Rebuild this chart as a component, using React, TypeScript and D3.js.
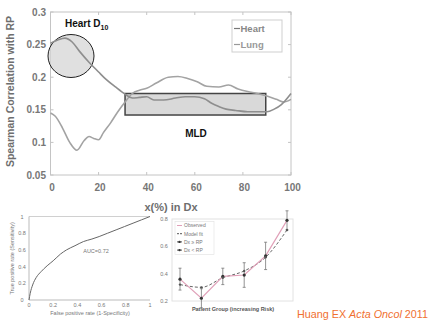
import React from 'react';
import * as d3 from 'd3';

// main panel: Spearman correlation vs x(%) of Dx
const heartX = [0, 3, 6, 9, 12, 16, 20, 23, 27, 31, 34, 37, 40, 43, 47, 52, 56, 60, 64, 67, 70, 73, 77, 82, 86, 90, 93, 96, 100];
const heartY = [0.252, 0.257, 0.26, 0.254, 0.24, 0.223, 0.208, 0.197, 0.185, 0.174, 0.168, 0.169, 0.17, 0.165, 0.165, 0.168, 0.17, 0.17, 0.167, 0.16, 0.155, 0.151, 0.149, 0.147, 0.147, 0.147, 0.151, 0.158, 0.175];
const lungX = [0, 2, 5, 8, 11, 14, 16, 18, 20, 22, 25, 28, 31, 34, 37, 40, 44, 49, 53, 57, 61, 65, 70, 74, 78, 82, 86, 90, 94, 97, 100];
const lungY = [0.145, 0.14, 0.122, 0.1, 0.088, 0.103, 0.109, 0.106, 0.104, 0.115, 0.13, 0.147, 0.162, 0.175, 0.18, 0.183, 0.191, 0.2, 0.201, 0.198, 0.193, 0.186, 0.185, 0.188, 0.182, 0.178, 0.175, 0.171, 0.166, 0.162, 0.166];
const xTicks = [0, 20, 40, 60, 80, 100];
const yTicks = [0.05, 0.1, 0.15, 0.2, 0.25, 0.3];

// bottom-left inset: ROC curve
const rocFpr = [0, 0.01, 0.03, 0.06, 0.1, 0.15, 0.2, 0.26, 0.31, 0.38, 0.45, 0.52, 0.58, 0.65, 0.72, 0.79, 0.86, 0.93, 1];
const rocTpr = [0, 0.08, 0.18, 0.27, 0.34, 0.41, 0.47, 0.55, 0.6, 0.65, 0.7, 0.73, 0.76, 0.8, 0.84, 0.88, 0.92, 0.96, 1];
const rocTicks = [0, 0.2, 0.4, 0.6, 0.8, 1];

// bottom-right inset: risk by patient group
const groups = [1, 2, 3, 4, 5, 6];
const observed = [0.36, 0.22, 0.38, 0.39, 0.53, 0.79];
const modelFit = [0.32, 0.3, 0.37, 0.42, 0.52, 0.72];
const errBar = [0.08, 0.07, 0.06, 0.09, 0.1, 0.07];
const riskTicks = [0.2, 0.4, 0.6, 0.8];
const riskLegend = ['Observed', 'Model fit', 'Dx ≥ RP', 'Dx < RP'];

const W = 431;
const H = 324;

const App: React.FC = () => {
  // main chart scales
  const x = d3.scaleLinear().domain([0, 100]).range([50.5, 291]);
  const y = d3.scaleLinear().domain([0.05, 0.3]).range([175, 12]);
  const line = d3.line<[number, number]>()
    .x((d) => x(d[0]))
    .y((d) => y(d[1]))
    .curve(d3.curveMonotoneX);
  const heartPath = line(heartX.map((v, i) => [v, heartY[i]]) as [number, number][]) || '';
  const lungPath = line(lungX.map((v, i) => [v, lungY[i]]) as [number, number][]) || '';

  // ROC inset scales
  const rx = d3.scaleLinear().domain([0, 1]).range([29, 150]);
  const ry = d3.scaleLinear().domain([0, 1]).range([300, 216.5]);
  const rocPath = d3.line<number>()
    .x((d) => rx(d))
    .y((_, i) => ry(rocTpr[i]))
    .curve(d3.curveMonotoneX)(rocFpr) || '';

  // risk inset scales
  const gx = d3.scaleLinear().domain([1, 6]).range([180, 287]);
  const gy = d3.scaleLinear().domain([0.2, 0.8]).range([301, 219]);
  const obsPath = d3.line<number>().x((d) => gx(d)).y((_, i) => gy(observed[i]))(groups) || '';
  const fitPath = d3.line<number>().x((d) => gx(d)).y((_, i) => gy(modelFit[i])).curve(d3.curveMonotoneX)(groups) || '';

  const tickFont = { fontFamily: 'Liberation Sans, Arial, sans-serif', fontWeight: 700 as const };

  return (
    <svg width={W} height={H} style={{ position: 'absolute', left: 0, top: 0 }}>
      <rect width={W} height={H} fill="#fff" />

      {/* main frame */}
      <rect x={x(0)} y={y(0.3)} width={x(100) - x(0)} height={y(0.05) - y(0.3)} fill="none" stroke="#c4c4c4" strokeWidth={1} />
      {xTicks.map((t) => (
        <g key={'xt' + t}>
          <line x1={x(t)} x2={x(t)} y1={y(0.05)} y2={y(0.05) - 3} stroke="#c4c4c4" />
          <line x1={x(t)} x2={x(t)} y1={y(0.3)} y2={y(0.3) + 3} stroke="#c4c4c4" />
          <text x={x(t) + 1.5} y={191} textAnchor="middle" fontSize={10} fill="#777" {...tickFont}>{t}</text>
        </g>
      ))}
      {yTicks.map((t) => (
        <g key={'yt' + t}>
          <line x1={x(0)} x2={x(0) + 3} y1={y(t)} y2={y(t)} stroke="#c4c4c4" />
          <line x1={x(100)} x2={x(100) - 3} y1={y(t)} y2={y(t)} stroke="#c4c4c4" />
          <text x={46} y={y(t) + 3.5} textAnchor="end" fontSize={10} fill="#777" {...tickFont}>{String(t)}</text>
        </g>
      ))}
      <text transform={`translate(14,${(y(0.05) + y(0.3)) / 2 - 2}) rotate(-90)`} textAnchor="middle" fontSize={10.5} fill="#6e6e6e" {...tickFont}>
        Spearman Correlation with RP
      </text>
      <text x={171} y={211} textAnchor="middle" fontSize={11} fill="#6e6e6e" {...tickFont}>x(%) in Dx</text>

      {/* highlight shapes */}
      <ellipse cx={71} cy={56} rx={23} ry={21.5} fill="#d6d6d6" fillOpacity={0.75} stroke="#222" strokeWidth={1} />
      <rect x={x(31)} y={y(0.175)} width={x(89.5) - x(31)} height={y(0.142) - y(0.175)} fill="#cfcfcf" fillOpacity={0.8} stroke="#444" strokeWidth={1.5} />

      {/* curves */}
      <path d={lungPath} fill="none" stroke="#a3a3a3" strokeWidth={1.6} />
      <path d={heartPath} fill="none" stroke="#8e8e8e" strokeWidth={1.6} />

      {/* legend */}
      <rect x={232} y={20} width={50} height={32} fill="#fff" stroke="#cfcfcf" strokeWidth={1} />
      <line x1={234} x2={240} y1={28.5} y2={28.5} stroke="#777" strokeWidth={1.2} />
      <text x={240.5} y={32} fontSize={9.5} fill="#888" {...tickFont}>Heart</text>
      <line x1={234} x2={240} y1={44.5} y2={44.5} stroke="#999" strokeWidth={1.2} />
      <text x={240.5} y={48} fontSize={9.5} fill="#999" {...tickFont}>Lung</text>

      {/* annotations */}
      <text x={65} y={27} fontSize={10} fontWeight={700} fill="#111" fontFamily="Liberation Sans, Arial, sans-serif">
        Heart D<tspan fontSize={7} dy={2.5}>10</tspan>
      </text>
      <text x={196} y={137} textAnchor="middle" fontSize={10} fontWeight={700} fill="#111" fontFamily="Liberation Sans, Arial, sans-serif">MLD</text>

      {/* ROC inset */}
      <g fontFamily="Liberation Sans, Arial, sans-serif" fill="#777">
        <line x1={rx(0)} x2={rx(1)} y1={ry(1)} y2={ry(1)} stroke="#d0d0d0" />
        <line x1={rx(0)} x2={rx(0)} y1={ry(0)} y2={ry(1)} stroke="#bbb" />
        <line x1={rx(0)} x2={rx(1)} y1={ry(0)} y2={ry(0)} stroke="#bbb" />
        {rocTicks.map((t) => (
          <g key={'rt' + t}>
            <text x={22} y={ry(t) + 2} textAnchor="middle" fontSize={5.5}>{String(t)}</text>
            <text x={rx(t)} y={307} textAnchor="middle" fontSize={5.5}>{String(t)}</text>
          </g>
        ))}
        <path d={rocPath} fill="none" stroke="#666" strokeWidth={1} />
        <text x={96} y={253} textAnchor="middle" fontSize={5.5}>AUC=0.72</text>
        <text x={90} y={315} textAnchor="middle" fontSize={5.5}>False positive rate (1-Specificity)</text>
        <text transform={`translate(14,${(ry(0) + ry(1)) / 2}) rotate(-90)`} textAnchor="middle" fontSize={5.5}>True positive rate (Sensitivity)</text>
      </g>

      {/* risk inset */}
      <g fontFamily="Liberation Sans, Arial, sans-serif">
        <rect x={172} y={219} width={121} height={82} fill="none" stroke="#e2e2e2" />
        {riskTicks.map((t) => (
          <text key={'gt' + t} x={164} y={gy(t) + 2} textAnchor="middle" fontSize={5.5} fill="#777">{String(t)}</text>
        ))}
        <path d={fitPath} fill="none" stroke="#555" strokeWidth={0.9} strokeDasharray="3,2" />
        <path d={obsPath} fill="none" stroke="#e0a0b8" strokeWidth={1.2} />
        {groups.map((g, i) => (
          <g key={'g' + g}>
            <line x1={gx(g)} x2={gx(g)} y1={gy(observed[i] - errBar[i])} y2={gy(observed[i] + errBar[i])} stroke="#777" strokeWidth={0.8} />
            <line x1={gx(g) - 1.5} x2={gx(g) + 1.5} y1={gy(observed[i] - errBar[i])} y2={gy(observed[i] - errBar[i])} stroke="#777" strokeWidth={0.8} />
            <line x1={gx(g) - 1.5} x2={gx(g) + 1.5} y1={gy(observed[i] + errBar[i])} y2={gy(observed[i] + errBar[i])} stroke="#777" strokeWidth={0.8} />
            <circle cx={gx(g)} cy={gy(observed[i])} r={1.6} fill="#333" />
            <circle cx={gx(g)} cy={gy(modelFit[i])} r={1.2} fill="#555" />
          </g>
        ))}
        <rect x={175} y={221.5} width={39} height={33} fill="#fff" stroke="#e0e0e0" strokeWidth={0.6} />
        {riskLegend.map((s, i) => (
          <g key={s}>
            <line x1={177} x2={182} y1={225.5 + i * 8.2} y2={225.5 + i * 8.2} stroke={i === 0 ? '#e0a0b8' : '#555'} strokeDasharray={i === 1 ? '2,1' : undefined} />
            {i > 1 && <circle cx={179.5} cy={225.5 + i * 8.2} r={1.2} fill="#333" />}
            <text x={184} y={227.3 + i * 8.2} fontSize={5} fill="#777">{s}</text>
          </g>
        ))}
        <text x={233} y={311} textAnchor="middle" fontSize={5.5} fill="#555" fontWeight={700}>Patient Group (increasing Risk)</text>
      </g>

      {/* citation */}
      <text x={297} y={318} fontSize={10.5} fill="#f07030" fontFamily="Liberation Sans, Arial, sans-serif" textLength={131} lengthAdjust="spacingAndGlyphs">
        Huang EX <tspan fontStyle="italic">Acta Oncol</tspan> 2011
      </text>
    </svg>
  );
};

export default App;
